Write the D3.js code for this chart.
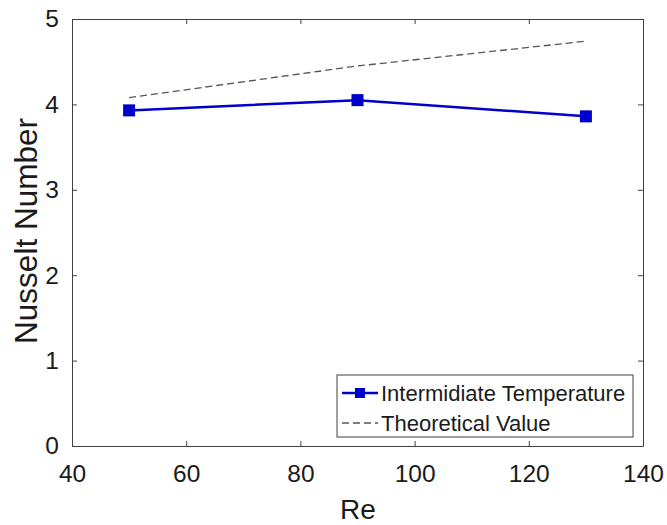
<!DOCTYPE html>
<html>
<head>
<meta charset="utf-8">
<script src="https://cdn.jsdelivr.net/npm/d3@7"></script>
<style>
  html, body { margin: 0; padding: 0; background: #fff; }
  svg { display: block; font-family: Arial, "Liberation Sans", Helvetica, sans-serif; }
</style>
</head>
<body>
<svg id="chart" width="667" height="525"></svg>
<script>
// Reynolds numbers tested
const reValues = [50, 90, 130];
// Measured Nusselt number (intermediate temperature)
const nuMeasured = [3.93, 4.05, 3.86];
// Theoretical Nusselt number
const nuTheory = [4.08, 4.45, 4.74];
const xTicks = [40, 60, 80, 100, 120, 140];
const yTicks = [0, 1, 2, 3, 4, 5];
const seriesNames = ["Intermidiate Temperature", "Theoretical Value"];

const svg = d3.select("#chart");
const m = { left: 72, right: 643, top: 19, bottom: 446 };
const axisColor = "#404040";
const textColor = "#1a1a1a";
const blue = "#0000cc";

const x = d3.scaleLinear().domain([40, 140]).range([m.left, m.right]);
const y = d3.scaleLinear().domain([0, 5]).range([m.bottom, m.top]);

// Box-style axes with inward ticks on all four sides
function styleAxis(g) {
  g.select(".domain").attr("stroke", axisColor).attr("stroke-width", 1);
  g.selectAll(".tick line").attr("stroke", axisColor).attr("stroke-width", 1);
  g.selectAll(".tick text").attr("fill", textColor).attr("font-size", 24.5);
}

svg.append("g").attr("transform", `translate(0,${m.bottom})`)
  .call(d3.axisBottom(x).tickValues(xTicks).tickFormat(d3.format("d"))
    .tickSizeInner(-5).tickSizeOuter(0).tickPadding(19))
  .call(styleAxis);

svg.append("g").attr("transform", `translate(0,${m.top})`)
  .call(d3.axisTop(x).tickValues(xTicks).tickSizeInner(-5).tickSizeOuter(0).tickFormat(""))
  .call(styleAxis);

svg.append("g").attr("transform", `translate(${m.left},0)`)
  .call(d3.axisLeft(y).tickValues(yTicks).tickFormat(d3.format("d"))
    .tickSizeInner(-5).tickSizeOuter(0).tickPadding(13))
  .call(styleAxis);

svg.append("g").attr("transform", `translate(${m.right},0)`)
  .call(d3.axisRight(y).tickValues(yTicks).tickSizeInner(-5).tickSizeOuter(0).tickFormat(""))
  .call(styleAxis);

// Axis titles
svg.append("text")
  .attr("x", 358).attr("y", 519)
  .attr("text-anchor", "middle").attr("font-size", 28).attr("fill", textColor)
  .text("Re");
svg.append("text")
  .attr("transform", "translate(37,231) rotate(-90)")
  .attr("text-anchor", "middle").attr("font-size", 31.5).attr("fill", textColor)
  .text("Nusselt Number");

const line = d3.line().x(d => x(d[0])).y(d => y(d[1]));

// Theoretical curve (dashed)
svg.append("path")
  .datum(reValues.map((r, i) => [r, nuTheory[i]]))
  .attr("d", line).attr("fill", "none")
  .attr("stroke", "#555").attr("stroke-width", 1.3)
  .attr("stroke-dasharray", "7,4");

// Measured series
const measured = reValues.map((r, i) => [r, nuMeasured[i]]);
svg.append("path")
  .datum(measured)
  .attr("d", line).attr("fill", "none")
  .attr("stroke", blue).attr("stroke-width", 2.5);
const ms = 12;
svg.selectAll("rect.marker").data(measured).enter().append("rect")
  .attr("class", "marker")
  .attr("x", d => x(d[0]) - ms / 2).attr("y", d => y(d[1]) - ms / 2)
  .attr("width", ms).attr("height", ms).attr("fill", blue);

// Legend
const lg = svg.append("g");
lg.append("rect").attr("x", 337).attr("y", 375).attr("width", 296).attr("height", 62)
  .attr("fill", "#fff").attr("stroke", axisColor).attr("stroke-width", 1);
lg.append("line").attr("x1", 342).attr("x2", 378).attr("y1", 393).attr("y2", 393)
  .attr("stroke", blue).attr("stroke-width", 2.5);
lg.append("rect").attr("x", 355).attr("y", 388).attr("width", 10).attr("height", 10).attr("fill", blue);
lg.append("line").attr("x1", 342).attr("x2", 378).attr("y1", 423).attr("y2", 423)
  .attr("stroke", "#555").attr("stroke-width", 1.3).attr("stroke-dasharray", "7,4");
lg.selectAll("text.lab").data(seriesNames).enter().append("text")
  .attr("class", "lab")
  .attr("x", 381).attr("y", (d, i) => 393 + i * 30).attr("dy", "0.35em")
  .attr("font-size", 22).attr("fill", textColor)
  .text(d => d);
</script>
</body>
</html>
